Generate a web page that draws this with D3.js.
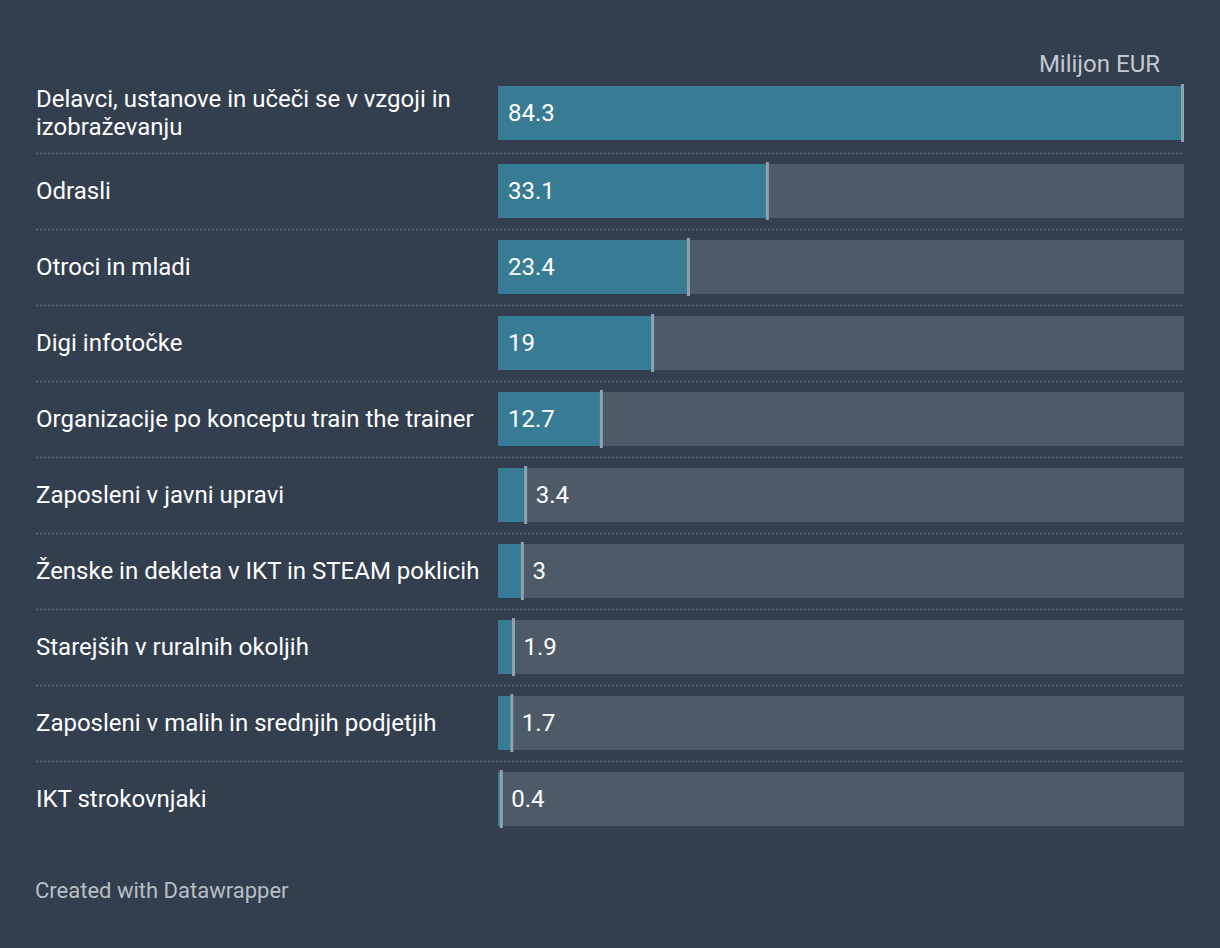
<!DOCTYPE html>
<html><head><meta charset="utf-8">
<script src="https://cdn.jsdelivr.net/npm/d3@7"></script>
<style>
html,body{margin:0;padding:0;background:#333e4e;}
svg{display:block;font-family:Roboto,"Noto Sans",sans-serif;}
</style></head>
<body>
<svg id="c" width="1220" height="948"></svg>
<script>
const categories = [
  ["Delavci, ustanove in učeči se v vzgoji in", "izobraževanju"],
  ["Odrasli"],
  ["Otroci in mladi"],
  ["Digi infotočke"],
  ["Organizacije po konceptu train the trainer"],
  ["Zaposleni v javni upravi"],
  ["Ženske in dekleta v IKT in STEAM poklicih"],
  ["Starejših v ruralnih okoljih"],
  ["Zaposleni v malih in srednjih podjetjih"],
  ["IKT strokovnjaki"]
];
const values = [84.3, 33.1, 23.4, 19, 12.7, 3.4, 3, 1.9, 1.7, 0.4];
const valueLabels = ["84.3","33.1","23.4","19","12.7","3.4","3","1.9","1.7","0.4"];
const unitLabel = "Milijon EUR";
const footer = "Created with Datawrapper";

const svg = d3.select("#c");
const W = 1220, H = 948;
svg.append("rect").attr("width", W).attr("height", H).attr("fill", "#333e4e");

const idx = d3.range(values.length);
const x = d3.scaleLinear().domain([0, 84.3]).range([498, 1184]);
const n = values.length;
const y = d3.scaleBand().domain(idx).range([88, 88 + 76 * n - 22]).paddingInner(22/76).paddingOuter(0);
const rowY = i => y(i) - (i === 0 ? 2 : 0);
const bw = y.bandwidth();

svg.append("text").attr("x", 1160).attr("y", 72).attr("text-anchor", "end")
  .attr("font-size", 24).attr("fill", "#c3c9d0").text(unitLabel);

const g = svg.append("g");
const rows = g.selectAll("g.row").data(idx).join("g").attr("class", "row");

rows.filter(i => i < n - 1).append("line")
  .attr("x1", 36).attr("x2", 1184)
  .attr("y1", i => rowY(i) + bw + (i === 0 ? 13.5 : 11.5))
  .attr("y2", i => rowY(i) + bw + (i === 0 ? 13.5 : 11.5))
  .attr("stroke", "#5f6a79").attr("stroke-width", 1.5).attr("stroke-dasharray", "2,2");

rows.append("rect").attr("x", x(0)).attr("width", x(84.3) - x(0))
  .attr("y", i => rowY(i)).attr("height", bw).attr("fill", "#4f5a69");
rows.append("rect").attr("x", x(0)).attr("width", i => x(values[i]) - x(0))
  .attr("y", i => rowY(i)).attr("height", bw).attr("fill", "#387b94");
rows.append("rect").attr("x", i => Math.min(x(values[i]) - 1.5, 1184 - 3)).attr("width", 3)
  .attr("y", i => rowY(i) - 2).attr("height", bw + 4).attr("fill", "#8ba4ae");

rows.each(function(i) {
  const lines = categories[i];
  const cy = rowY(i) + bw / 2;
  const lh = 28;
  const t = d3.select(this).append("text").attr("font-size", 24).attr("fill", "#ffffff");
  lines.forEach((ln, k) => {
    t.append("tspan").attr("x", 36)
      .attr("y", cy + (k - (lines.length - 1) / 2) * lh).attr("dy", "0.33em").text(ln);
  });
});

rows.append("text").attr("font-size", 24).attr("fill", "#ffffff").attr("dy", "0.33em")
  .attr("y", i => rowY(i) + bw / 2)
  .attr("x", i => (x(values[i]) - x(0) > 80) ? x(0) + 10 : x(values[i]) + 10)
  .text(i => valueLabels[i]);

svg.append("text").attr("x", 35).attr("y", 898).attr("font-size", 22)
  .attr("fill", "#b8bec6").text(footer);
</script>
</body></html>
